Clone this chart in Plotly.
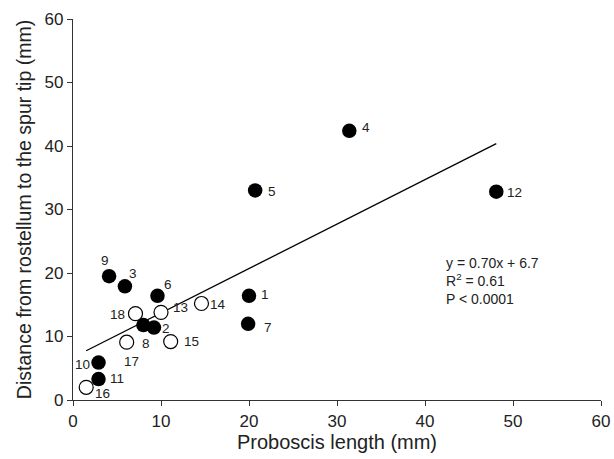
import plotly.graph_objects as go

# Data
labels = ["1", "2", "3", "4", "5", "6", "7", "8", "9", "10",
          "11", "12", "13", "14", "15", "16", "17", "18"]
proboscis = [20.0, 9.2, 5.9, 31.4, 20.7, 9.6, 19.9, 8.0, 4.1, 2.9,
             2.9, 48.1, 10.0, 14.6, 11.1, 1.5, 6.1, 7.1]
distance = [16.4, 11.4, 17.9, 42.4, 33.0, 16.4, 12.0, 11.8, 19.5, 5.9,
            3.3, 32.8, 13.8, 15.2, 9.2, 2.0, 9.1, 13.6]
filled = [True, True, True, True, True, True, True, True, True, True,
          True, True, False, False, False, False, False, False]
slope = 0.70
intercept = 6.7
fit_text = ["y = 0.70x + 6.7", "R<sup>2</sup> = 0.61", "P < 0.0001"]

# label offsets in pixels (style)
offsets = {
    "1": (16, 1), "2": (12, -1), "3": (8, 13), "4": (17, 3), "5": (17, -1),
    "6": (11, 11), "7": (20, -4), "8": (3, -18), "9": (-4, 16), "10": (-16, -2),
    "11": (18, 1), "12": (18, -1), "13": (19, 5), "14": (17, -1), "15": (21, 0),
    "16": (16, -6), "17": (5, -19), "18": (-18, -1),
}

FONT = "Liberation Sans, Arial, Helvetica, sans-serif"

fig = go.Figure()

xmin, xmax = min(proboscis), max(proboscis)
fig.add_trace(go.Scatter(
    x=[xmin, xmax], y=[slope * xmin + intercept, slope * xmax + intercept],
    mode="lines", line=dict(color="black", width=1.3), hoverinfo="skip",
    cliponaxis=False))

fx = [x for x, f in zip(proboscis, filled) if f]
fy = [y for y, f in zip(distance, filled) if f]
ox = [x for x, f in zip(proboscis, filled) if not f]
oy = [y for y, f in zip(distance, filled) if not f]

fig.add_trace(go.Scatter(
    x=ox, y=oy, mode="markers", cliponaxis=False,
    marker=dict(size=14, color="white", line=dict(color="black", width=1.2))))
fig.add_trace(go.Scatter(
    x=fx, y=fy, mode="markers", cliponaxis=False,
    marker=dict(size=14.5, color="black", line=dict(color="black", width=0))))

for lab, x, y in zip(labels, proboscis, distance):
    dx, dy = offsets[lab]
    fig.add_annotation(x=x, y=y, text=lab, showarrow=False,
                       xshift=dx, yshift=dy,
                       font=dict(family=FONT, size=13.5, color="#222"))

fig.add_annotation(xref="paper", yref="paper", x=(444 - 73) / 528, y=(400 - 253) / 381,
                   xanchor="left", yanchor="top", align="left", showarrow=False,
                   text="<br>".join(fit_text),
                   font=dict(family=FONT, size=14, color="#222"))

axis_common = dict(
    range=[0, 60], dtick=10, showline=True, linecolor="#333", linewidth=1.2,
    ticks="outside", ticklen=5, tickcolor="#333", tickwidth=1.2,
    showgrid=False, zeroline=False,
    tickfont=dict(family=FONT, size=17, color="#222"),
)

fig.update_layout(
    width=614, height=459,
    margin=dict(l=73, r=13, t=19, b=59, autoexpand=False),
    paper_bgcolor="white", plot_bgcolor="white",
    showlegend=False,
    xaxis=dict(**axis_common,
               title=dict(text="Proboscis length (mm)", standoff=4,
                          font=dict(family=FONT, size=20, color="#222"))),
    yaxis=dict(**axis_common,
               title=dict(text="Distance from rostellum to the spur tip (mm)", standoff=7,
                          font=dict(family=FONT, size=19.5, color="#222"))),
)

fig.write_html("out.html", config={"displayModeBar": False},
               post_script="document.body.style.margin='0';document.body.style.padding='0';")
